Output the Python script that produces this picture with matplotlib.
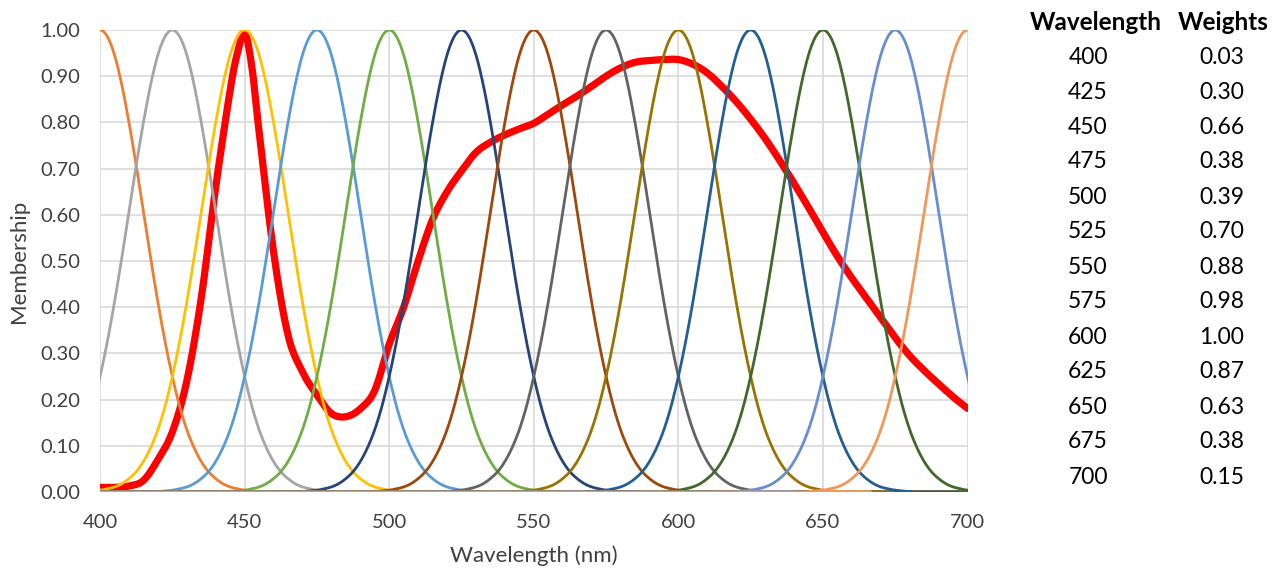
import numpy as np
import matplotlib.pyplot as plt

plt.rcParams['font.family'] = ['Lato', 'DejaVu Sans']

# membership function centres and colours (one curve per table row)
centres = [400, 425, 450, 475, 500, 525, 550, 575, 600, 625, 650, 675, 700]
colours = ['#ED7D31', '#A5A5A5', '#FFC000', '#5B9BD5', '#70AD47', '#264478',
           '#9E480E', '#636363', '#997300', '#255E91', '#43682B', '#698ED0',
           '#F1975A']
weights = [0.03, 0.30, 0.66, 0.38, 0.39, 0.70, 0.88, 0.98, 1.00, 0.87, 0.63, 0.38, 0.15]

# shape of one membership curve (half profile, symmetric)
half_offsets = [0, 2.5, 5, 7.5, 10, 12.5, 15, 17.5, 20, 22.5, 25, 27.5, 30,
                32.5, 35, 37.5, 40, 42.5, 45, 47.5, 50, 55, 60]
half_values = [1.00, 0.986, 0.946, 0.882, 0.80, 0.707, 0.607, 0.506, 0.411,
               0.325, 0.25, 0.186, 0.135, 0.096, 0.066, 0.044, 0.029, 0.018,
               0.011, 0.007, 0.004, 0.001, 0.0]

# aggregated (red) curve
red_wl = [400, 405, 410, 415, 420, 425, 430, 435, 440, 445, 447.5, 450, 452.5,
          455, 460, 465, 470, 475, 480, 485, 490, 495, 500, 505, 510, 515, 520,
          525, 530, 535, 540, 545, 550, 555, 560, 565, 570, 575, 580, 585, 590,
          595, 600, 605, 610, 615, 620, 625, 630, 635, 640, 645, 650, 655, 660,
          665, 670, 675, 680, 685, 690, 695, 700]
red_val = [0.01, 0.01, 0.013, 0.025, 0.07, 0.13, 0.24, 0.42, 0.66, 0.87, 0.95,
           0.995, 0.92, 0.78, 0.52, 0.34, 0.26, 0.21, 0.17, 0.163, 0.18, 0.22,
           0.32, 0.40, 0.50, 0.59, 0.65, 0.695, 0.735, 0.757, 0.773, 0.786,
           0.798, 0.818, 0.838, 0.857, 0.878, 0.90, 0.918, 0.93, 0.934, 0.936,
           0.936, 0.926, 0.907, 0.878, 0.845, 0.807, 0.765, 0.718, 0.668, 0.616,
           0.562, 0.51, 0.463, 0.42, 0.377, 0.334, 0.295, 0.263, 0.234, 0.206,
           0.181]


def smooth_line(x, y, n=12):
    # Catmull-Rom through the points, like a spreadsheet "smoothed line"
    p = np.column_stack([x, y]).astype(float)
    p = np.vstack([p[0], p, p[-1]])
    t = np.linspace(0, 1, n, endpoint=False)[:, None]
    out = []
    for i in range(1, len(p) - 2):
        p0, p1, p2, p3 = p[i - 1], p[i], p[i + 1], p[i + 2]
        out.append(0.5 * (2 * p1 + (-p0 + p2) * t
                          + (2 * p0 - 5 * p1 + 4 * p2 - p3) * t ** 2
                          + (-p0 + 3 * p1 - 3 * p2 + p3) * t ** 3))
    out.append(p[-2][None, :])
    out = np.vstack(out)
    return out[:, 0], out[:, 1]


off = np.array(half_offsets)
val = np.array(half_values)
prof_x = np.concatenate([-off[:0:-1], off])
prof_y = np.concatenate([val[:0:-1], val])

fig = plt.figure(figsize=(12.81, 5.70), dpi=100)
ax = fig.add_axes([0.0781, 0.1368, 0.6772, 0.8106])

rx, ry = smooth_line(red_wl, red_val)
ax.plot(rx, ry, color='#FF0000', lw=5.2, zorder=2,
        solid_capstyle='round', solid_joinstyle='round')
for c, col in zip(centres, colours):
    xs = np.concatenate([[300], c + prof_x, [800]])
    ys = np.concatenate([[0], prof_y, [0]])
    sx, sy = smooth_line(xs, ys)
    ax.plot(sx, sy, color=col, lw=2.0, zorder=3)

ax.set_xlim(400, 700)
ax.set_ylim(0, 1)
ax.set_xticks(np.arange(400, 701, 50))
ax.set_yticks(np.arange(0, 1.001, 0.1))
ax.set_yticklabels([f'{v:.2f}' for v in np.arange(0, 1.001, 0.1)])
ax.grid(True, color='#D9D9D9', lw=1.2, zorder=0)
ax.set_axisbelow(True)
for s in ax.spines.values():
    s.set_visible(False)
ax.tick_params(length=0, labelsize=14.5, colors='#404040')
ax.tick_params(axis='x', pad=16)
ax.tick_params(axis='y', pad=14)
ax.set_xlabel('Wavelength (nm)', fontsize=16, color='#404040', labelpad=10)
ax.set_ylabel('Membership', fontsize=16, color='#404040', labelpad=8)

# weights table on the right
fig.text(1096 / 1281, 1 - 22 / 570, 'Wavelength', fontsize=17.5, fontweight='bold',
         ha='center', va='center')
fig.text(1223 / 1281, 1 - 22 / 570, 'Weights', fontsize=17.5, fontweight='bold',
         ha='center', va='center')
for i, (c, w) in enumerate(zip(centres, weights)):
    y = 1 - (57 + 35 * i) / 570
    fig.text(1088 / 1281, y, str(c), fontsize=16.5, ha='center', va='center')
    fig.text(1222 / 1281, y, f'{w:.2f}', fontsize=16.5, ha='center', va='center')

fig.savefig('out.png', dpi=100)
